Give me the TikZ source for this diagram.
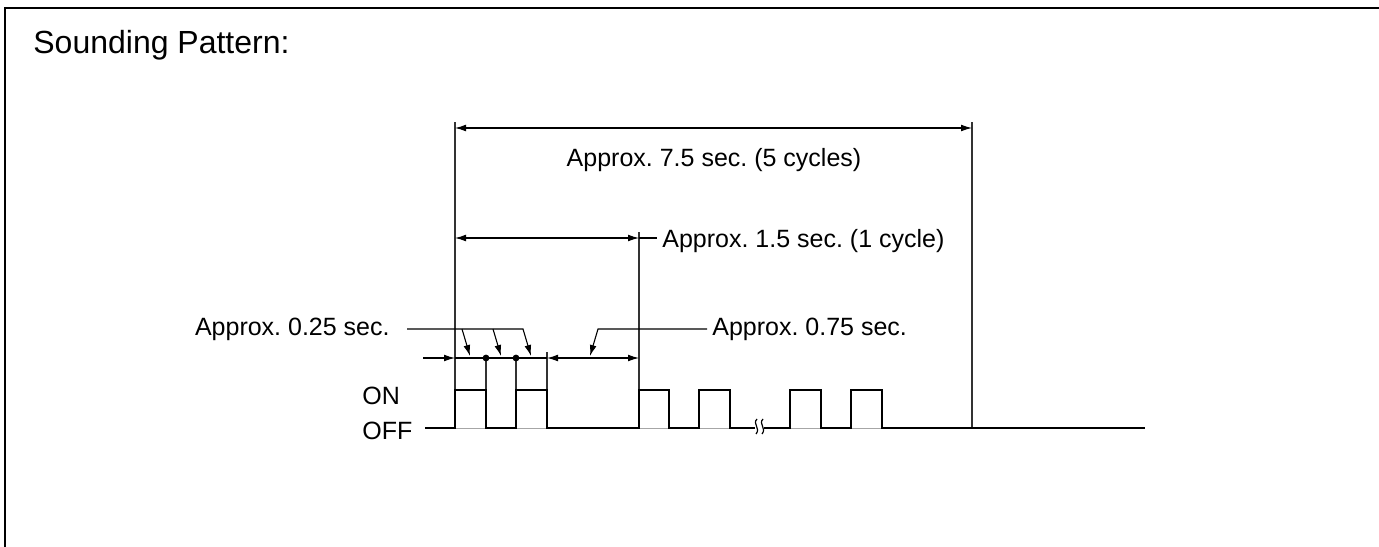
\documentclass[tikz,border=0pt]{standalone}
\usepackage{fontspec}
\setmainfont{Liberation Sans}
\usetikzlibrary{arrows.meta, positioning}
\frenchspacing

\begin{document}
\begin{tikzpicture}[
        x=0.5pt, y=-0.5pt,
        >={Latex[length=5.5pt,width=3.4pt]},
        dim/.style={line width=0.55pt},
        ext/.style={line width=0.55pt, black!80},
        wave/.style={line width=1.3pt, line join=miter},
        lbl/.style={inner sep=0pt, font=\fontsize{12.5}{15}\selectfont},
        dot/.style={circle, fill, inner sep=0pt, minimum size=3.4pt}
    ]
        \useasboundingbox (0,0) rectangle (1379,546);
        \draw[line width=1.2pt] (5,560) -- (5,8) -- (1390,8);

        \node[lbl, font=\fontsize{16}{19}\selectfont, anchor=base west] (title) at (33,53) {Sounding Pattern:};

        % time marks on the OFF level
        \coordinate (t0) at (455,428);
        \coordinate (t1) at (486,428);
        \coordinate (t2) at (516,428);
        \coordinate (t3) at (547,428);
        \coordinate (t4) at (639,428);
        \coordinate (tEnd) at (972,428);

        % extension lines
        \draw[ext] (t0) -- (455,122);
        \draw[ext] (tEnd) -- (972,122);
        \draw[ext] (t4) -- (639,232);
        \draw[ext] (547,390) -- (547,352);
        \draw[ext] (486,390) -- (486,358);
        \draw[ext] (516,390) -- (516,358);

        % total time
        \draw[dim, <->] (455,128) -- (972,128);
        \node[lbl, anchor=base] (lblTotal) at (714,166) {Approx. 7.5 sec. (5 cycles)};

        % one cycle
        \draw[dim, <->] (455,238) -- (639,238);
        \node[lbl, anchor=base west] (lblCycle) at (662,247) {Approx. 1.5 sec. (1 cycle)};
        \draw[dim] (639,238) -- ([xshift=-2.5pt]lblCycle.west |- 0,238);

        % short steps
        \draw[dim, ->] (423,358) -- (455,358);
        \draw[dim] (455,358) -- (547,358);
        \node[dot] (d1) at (486,358) {};
        \node[dot] (d2) at (516,358) {};
        \draw[dim, <->] (547,358) -- (639,358);

        \node[lbl, anchor=base east] (lblShort) at (390,335) {Approx. 0.25 sec.};
        \draw[dim, ->] (407,329) -- (523,329) -- (531,356);
        \draw[dim, ->] (462,329) -- (470,356);
        \draw[dim, ->] (493,329) -- (501,356);

        \node[lbl, anchor=base west] (lblLong) at (712,335) {Approx. 0.75 sec.};
        \draw[dim, ->] (707,329) -- (598,329) -- (590,356);

        % levels
        \node[lbl, anchor=base west] (lblOn) at (362,404) {ON};
        \node[lbl, anchor=base west] (lblOff) at (362,439) {OFF};

        % waveform
        \foreach \x in {455,516,639,699,790,851}
            \draw[black!35, line width=0.5pt] (\x,428) -- (\x+31,428);
        \draw[wave] (425,428) -| (455,390) -| (486,428) -| (516,390) -| (547,428)
            -| (639,390) -| (669,428) -| (699,390) -| (730,428) -- (755,428);
        \draw[wave] (764,428) -| (790,390) -| (821,428) -| (851,390) -| (882,428) -- (1145,428);
        \draw[line width=0.6pt] (757,419) .. controls (752,424) and (761,428) .. (756,434);
        \draw[line width=0.6pt] (763,419) .. controls (758,424) and (767,428) .. (762,434);
    \end{tikzpicture}
\end{document}
